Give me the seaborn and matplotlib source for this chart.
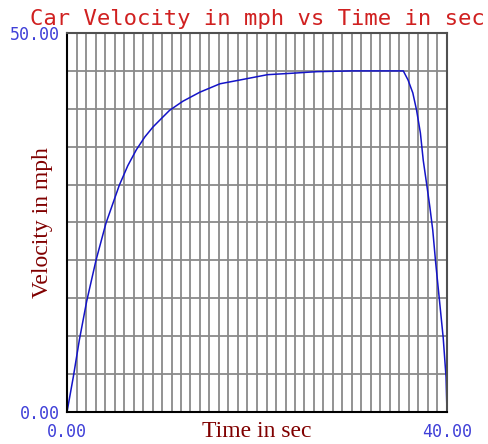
import numpy as np
import matplotlib
matplotlib.use("Agg")
import matplotlib.pyplot as plt
import seaborn as sns
from matplotlib.ticker import FixedLocator, FuncFormatter

# values
time_sec = [0.0, 0.66, 1.3, 2.07, 3.05, 4.1, 5.5, 6.4, 7.3, 8.2, 9.05, 10.0, 10.8,
            12.2, 14.0, 16.1, 18.2, 21.1, 23.8, 26.3, 30.0, 35.4, 35.9, 36.4,
            36.8, 37.2, 37.5, 37.9, 38.2, 38.5, 38.8, 39.2, 39.6, 39.9, 40.0]
velocity_mph = [0.0, 4.6, 9.5, 14.6, 20.0, 24.9, 29.9, 32.5, 34.6, 36.3, 37.6, 38.8, 39.8,
                41.0, 42.2, 43.3, 43.8, 44.5, 44.7, 44.9, 45.0, 45.0, 43.8, 42.1,
                39.8, 36.8, 33.2, 29.7, 27.0, 24.0, 19.8, 14.8, 9.8, 4.6, 0.0]

x_min, x_max = 0.0, 40.0
y_min, y_max = 0.0, 50.0
x_grid_step = 1.0
y_grid_step = 5.0

title_text = "Car Velocity in mph vs Time in sec"
x_label = "Time in sec"
y_label = "Velocity in mph"

sns.set_style("white")

fig = plt.figure(figsize=(4.88, 4.44), dpi=100)
ax = fig.add_axes([67 / 488, 32 / 444, 380 / 488, 379 / 444])

sns.lineplot(x=time_sec, y=velocity_mph, color="#1414c8", linewidth=1.1, ax=ax)

ax.set_xlim(x_min, x_max)
ax.set_ylim(y_min, y_max)

# grid lines on every step, labels only at the ends
ax.xaxis.set_major_locator(FixedLocator(np.arange(x_min, x_max + 0.5, x_grid_step)))
ax.yaxis.set_major_locator(FixedLocator(np.arange(y_min, y_max + 0.5, y_grid_step)))
ax.xaxis.set_major_formatter(FuncFormatter(lambda v, p: f"{v:.2f}" if v in (x_min, x_max) else ""))
ax.yaxis.set_major_formatter(FuncFormatter(lambda v, p: f"{v:.2f}" if v in (y_min, y_max) else ""))
ax.tick_params(axis="both", length=0, labelsize=12, labelcolor="#4040d8")
ax.tick_params(axis="x", pad=8)
ax.tick_params(axis="y", pad=5)
for lab in ax.get_xticklabels() + ax.get_yticklabels():
    lab.set_family("DejaVu Sans Mono")

ax.grid(True, color="#8a8a8a", linewidth=1.3)
ax.set_axisbelow(True)

for side in ["left", "bottom"]:
    ax.spines[side].set_color("black")
    ax.spines[side].set_linewidth(1.5)
for side in ["top", "right"]:
    ax.spines[side].set_color("#505050")
    ax.spines[side].set_linewidth(1.5)

ax.set_title(title_text, color="#d02020", fontsize=16, family="DejaVu Sans Mono", pad=6)
ax.set_xlabel(x_label, color="#800000", fontsize=17, family="Liberation Serif")
ax.set_ylabel(y_label, color="#800000", fontsize=17, family="Liberation Serif")
ax.xaxis.set_label_coords(0.5, -0.025)
ax.yaxis.set_label_coords(-0.036, 0.5)

fig.savefig("out.png", dpi=100)
